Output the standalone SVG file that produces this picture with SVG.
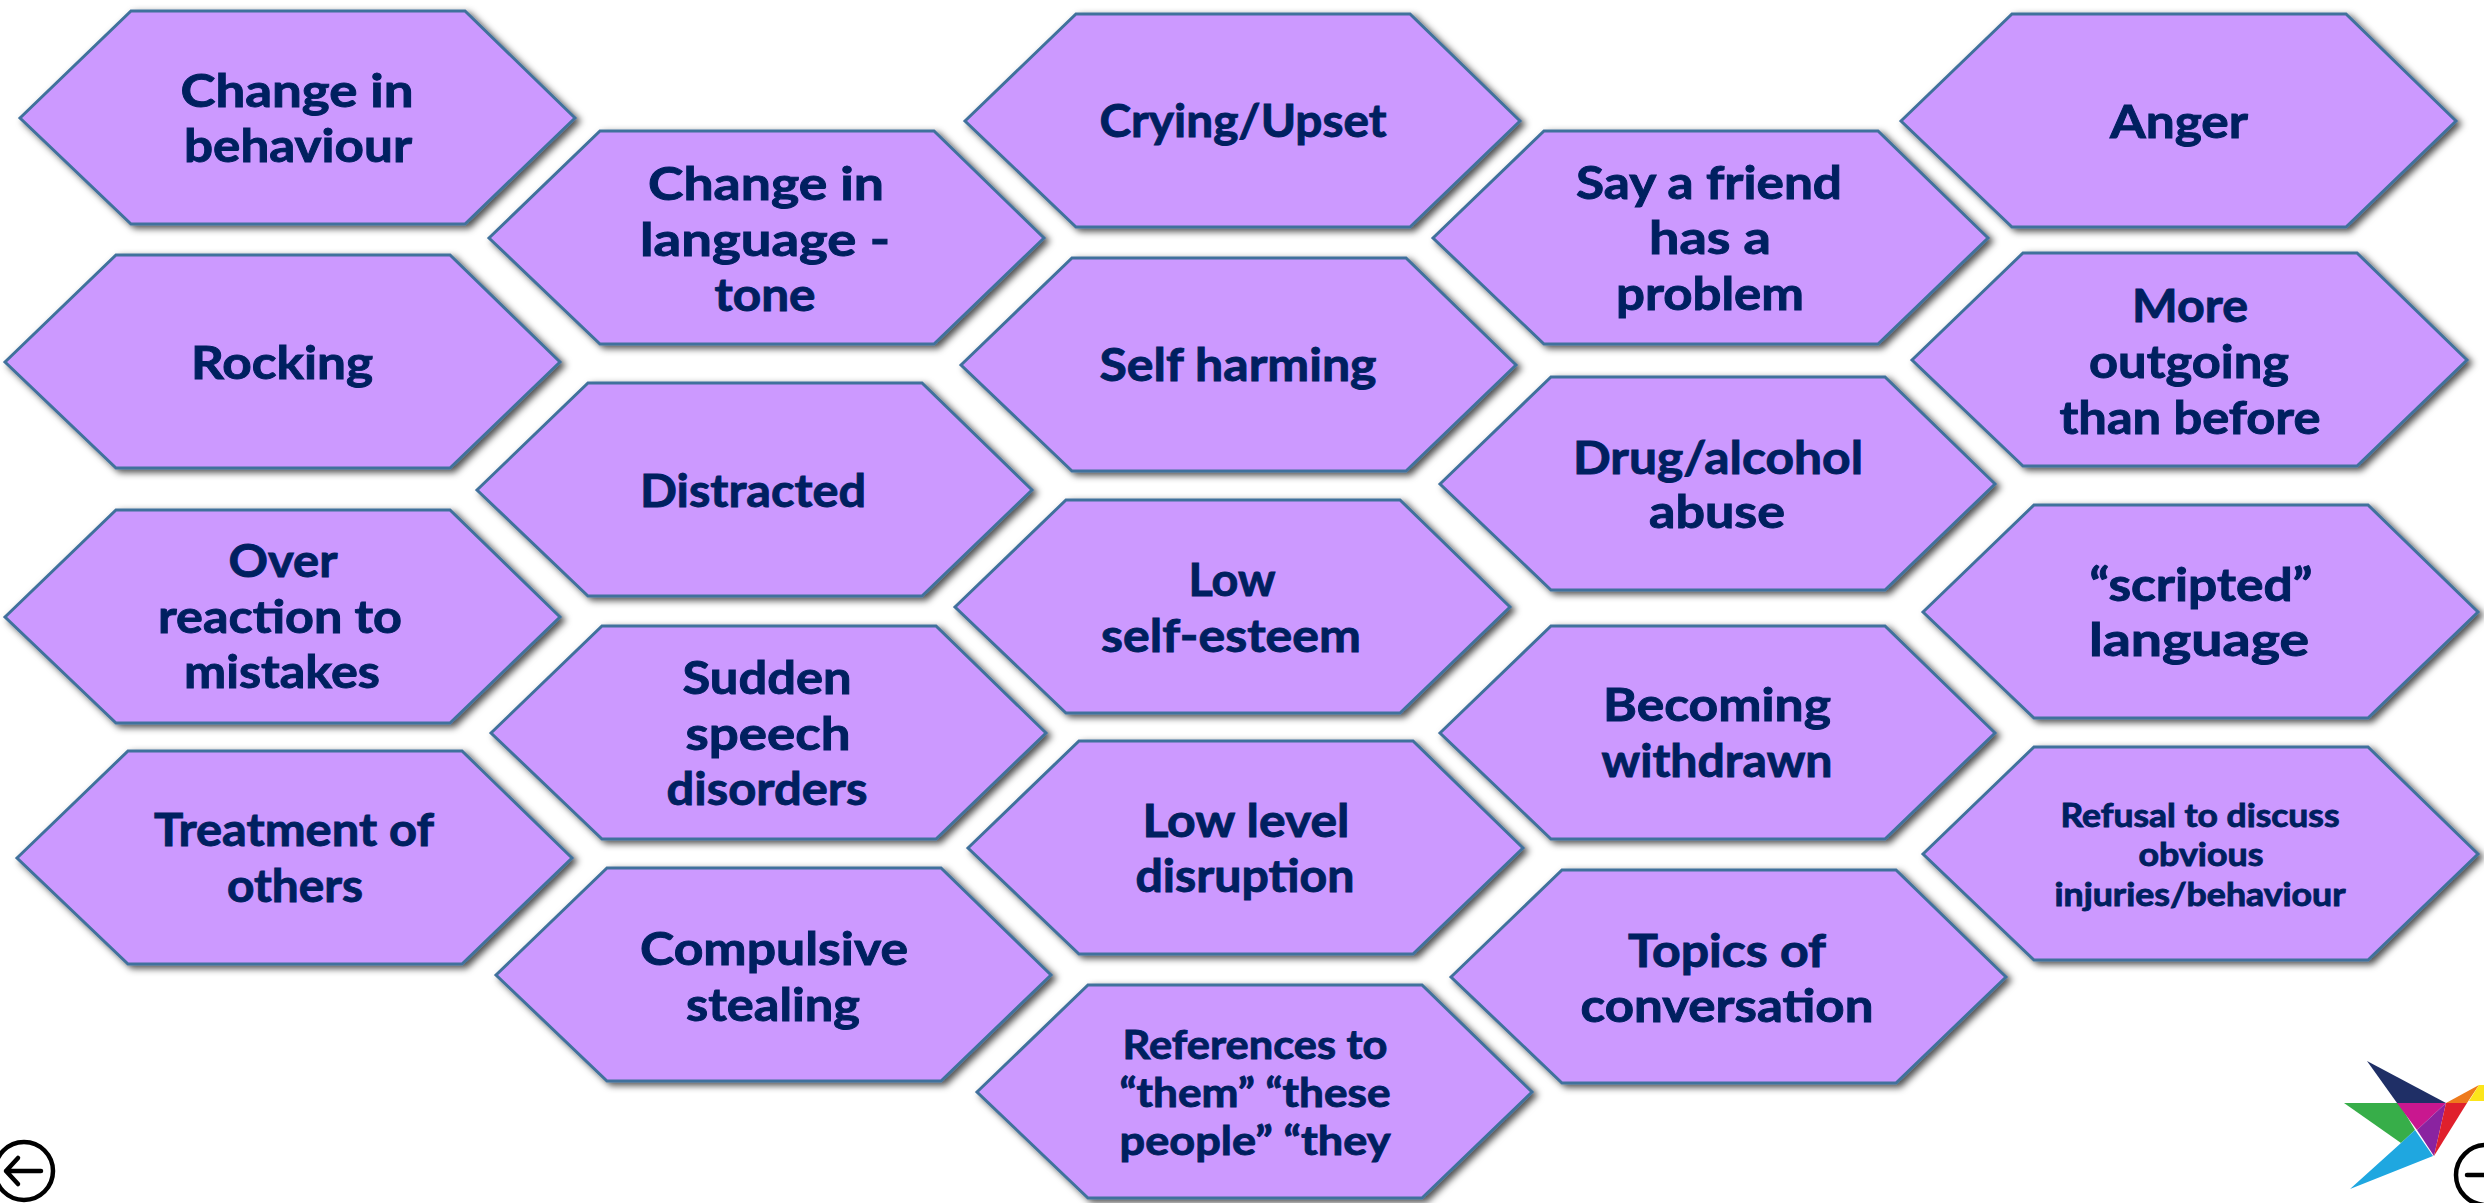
<svg xmlns="http://www.w3.org/2000/svg" width="2484" height="1203" viewBox="0 0 2484 1203">
<style>
.h{fill:#CC99FF;stroke:#41719C;stroke-width:3;filter:url(#s)}
text{font-family:"Lato","Liberation Sans",sans-serif;font-weight:700;font-size:46px;fill:#002060;stroke:#002060;stroke-width:0.9;text-anchor:middle}
.m{font-size:40px}.r{font-size:32px}
.n{fill:none;stroke:#000;stroke-width:4.5;stroke-linecap:round;stroke-linejoin:round}
</style>
<defs>
<filter id="s" x="-5%" y="-10%" width="115%" height="125%"><feDropShadow dx="4" dy="3" stdDeviation="3.5" flood-color="#000" flood-opacity="0.7"/></filter>
<path id="hex" d="M0,107 L111,0 H445 L555,107 L445,213 H111 Z"/>
</defs>
<rect width="2484" height="1203" fill="#fff"/>
<g id="n1"><use href="#hex" class="h" x="20" y="11"/><text x="297" y="106.5" textLength="233" lengthAdjust="spacingAndGlyphs">Change in</text><text x="298" y="161.5" textLength="228" lengthAdjust="spacingAndGlyphs">behaviour</text></g>
<g id="n2"><use href="#hex" class="h" x="5" y="255"/><text x="282" y="378.5" textLength="182" lengthAdjust="spacingAndGlyphs">Rocking</text></g>
<g id="n3"><use href="#hex" class="h" x="5" y="510"/><text x="283" y="576.5" textLength="109" lengthAdjust="spacingAndGlyphs">Over</text><text x="280" y="632.5" textLength="244" lengthAdjust="spacingAndGlyphs">reaction to</text><text x="282" y="687.5" textLength="196" lengthAdjust="spacingAndGlyphs">mistakes</text></g>
<g id="n4"><use href="#hex" class="h" x="17" y="751"/><text x="294" y="845.5" textLength="280" lengthAdjust="spacingAndGlyphs">Treatment of</text><text x="295" y="901.5" textLength="136" lengthAdjust="spacingAndGlyphs">others</text></g>
<g id="n5"><use href="#hex" class="h" x="489" y="131"/><text x="766" y="199.5" textLength="236" lengthAdjust="spacingAndGlyphs">Change in</text><text x="765" y="255.5" textLength="250" lengthAdjust="spacingAndGlyphs">language -</text><text x="765" y="310.5" textLength="101" lengthAdjust="spacingAndGlyphs">tone</text></g>
<g id="n6"><use href="#hex" class="h" x="477" y="383"/><text x="753" y="507" textLength="226" lengthAdjust="spacingAndGlyphs">Distracted</text></g>
<g id="n7"><use href="#hex" class="h" x="491" y="626"/><text x="767" y="693.5" textLength="169" lengthAdjust="spacingAndGlyphs">Sudden</text><text x="768" y="749.5" textLength="165" lengthAdjust="spacingAndGlyphs">speech</text><text x="767" y="804.5" textLength="201" lengthAdjust="spacingAndGlyphs">disorders</text></g>
<g id="n8"><use href="#hex" class="h" x="496" y="868"/><text x="774" y="964.5" textLength="268" lengthAdjust="spacingAndGlyphs">Compulsive</text><text x="773" y="1020.5" textLength="174" lengthAdjust="spacingAndGlyphs">stealing</text></g>
<g id="n9"><use href="#hex" class="h" x="965" y="14"/><text x="1243" y="136.5" textLength="287" lengthAdjust="spacingAndGlyphs">Crying/Upset</text></g>
<g id="n10"><use href="#hex" class="h" x="961" y="258"/><text x="1238" y="380.5" textLength="277" lengthAdjust="spacingAndGlyphs">Self harming</text></g>
<g id="n11"><use href="#hex" class="h" x="955" y="500"/><text x="1232" y="595.5" textLength="87" lengthAdjust="spacingAndGlyphs">Low</text><text x="1231" y="651.5" textLength="260" lengthAdjust="spacingAndGlyphs">self-esteem</text></g>
<g id="n12"><use href="#hex" class="h" x="968" y="741"/><text x="1246" y="836.5" textLength="207" lengthAdjust="spacingAndGlyphs">Low level</text><text x="1245" y="891.5" textLength="219" lengthAdjust="spacingAndGlyphs">disruption</text></g>
<g id="n13"><use href="#hex" class="h" x="977" y="985"/><text class="m" x="1255" y="1059" textLength="265" lengthAdjust="spacingAndGlyphs">References to</text><text class="m" x="1255" y="1107" textLength="271" lengthAdjust="spacingAndGlyphs">“them” “these</text><text class="m" x="1255" y="1155" textLength="271" lengthAdjust="spacingAndGlyphs">people” “they</text></g>
<g id="n14"><use href="#hex" class="h" x="1433" y="131"/><text x="1709" y="198.5" textLength="266" lengthAdjust="spacingAndGlyphs">Say a friend</text><text x="1710" y="254" textLength="122" lengthAdjust="spacingAndGlyphs">has a</text><text x="1710" y="310" textLength="188" lengthAdjust="spacingAndGlyphs">problem</text></g>
<g id="n15"><use href="#hex" class="h" x="1440" y="377"/><text x="1718" y="474" textLength="290" lengthAdjust="spacingAndGlyphs">Drug/alcohol</text><text x="1717" y="528" textLength="136" lengthAdjust="spacingAndGlyphs">abuse</text></g>
<g id="n16"><use href="#hex" class="h" x="1440" y="626"/><text x="1717" y="721" textLength="228" lengthAdjust="spacingAndGlyphs">Becoming</text><text x="1717" y="777" textLength="231" lengthAdjust="spacingAndGlyphs">withdrawn</text></g>
<g id="n17"><use href="#hex" class="h" x="1451" y="870"/><text x="1727" y="966.5" textLength="198" lengthAdjust="spacingAndGlyphs">Topics of</text><text x="1727" y="1021.5" textLength="293" lengthAdjust="spacingAndGlyphs">conversation</text></g>
<g id="n18"><use href="#hex" class="h" x="1901" y="14"/><text x="2179" y="138" textLength="138" lengthAdjust="spacingAndGlyphs">Anger</text></g>
<g id="n19"><use href="#hex" class="h" x="1912" y="253"/><text x="2190" y="322" textLength="116" lengthAdjust="spacingAndGlyphs">More</text><text x="2189" y="378" textLength="200" lengthAdjust="spacingAndGlyphs">outgoing</text><text x="2190" y="434" textLength="261" lengthAdjust="spacingAndGlyphs">than before</text></g>
<g id="n20"><use href="#hex" class="h" x="1923" y="505"/><text x="2201" y="601" textLength="223" lengthAdjust="spacingAndGlyphs">“scripted”</text><text x="2199" y="656" textLength="220" lengthAdjust="spacingAndGlyphs">language</text></g>
<g id="n21"><use href="#hex" class="h" x="1923" y="747"/><text class="r" x="2200" y="826.5" textLength="279" lengthAdjust="spacingAndGlyphs">Refusal to discuss</text><text class="r" x="2201" y="866" textLength="125" lengthAdjust="spacingAndGlyphs">obvious</text><text class="r" x="2200" y="905.5" textLength="291" lengthAdjust="spacingAndGlyphs">injuries/behaviour</text></g>
<g id="connectors"/>
<g id="logo">
<polygon fill="#1F2F66" points="2367,1061 2446,1103 2397,1103"/>
<polygon fill="#37AE49" points="2344,1103 2399,1103 2415,1130 2401,1143"/>
<polygon fill="#1FA7E0" points="2415,1130 2433,1156 2350,1189 2401,1143"/>
<polygon fill="#C9178F" points="2397,1103 2446,1103 2417,1130"/>
<polygon fill="#8A23A0" points="2446,1103 2434,1156 2417,1130"/>
<polygon fill="#E0202C" points="2446,1103 2467,1103 2434,1156"/>
<polygon fill="#EE7A1C" points="2446,1103 2479,1085 2467,1103"/>
<polygon fill="#FCE51A" points="2479,1085 2484,1085 2484,1101 2469,1101"/>
</g>
<g id="nav-back" class="n"><circle cx="24" cy="1171" r="29"/><path d="M41,1171 H6 M18,1158 L6,1171 L18,1184"/></g>
<g id="nav-forward" class="n"><circle cx="2486" cy="1175" r="30"/><path d="M2467,1175 H2486"/></g>
</svg>
